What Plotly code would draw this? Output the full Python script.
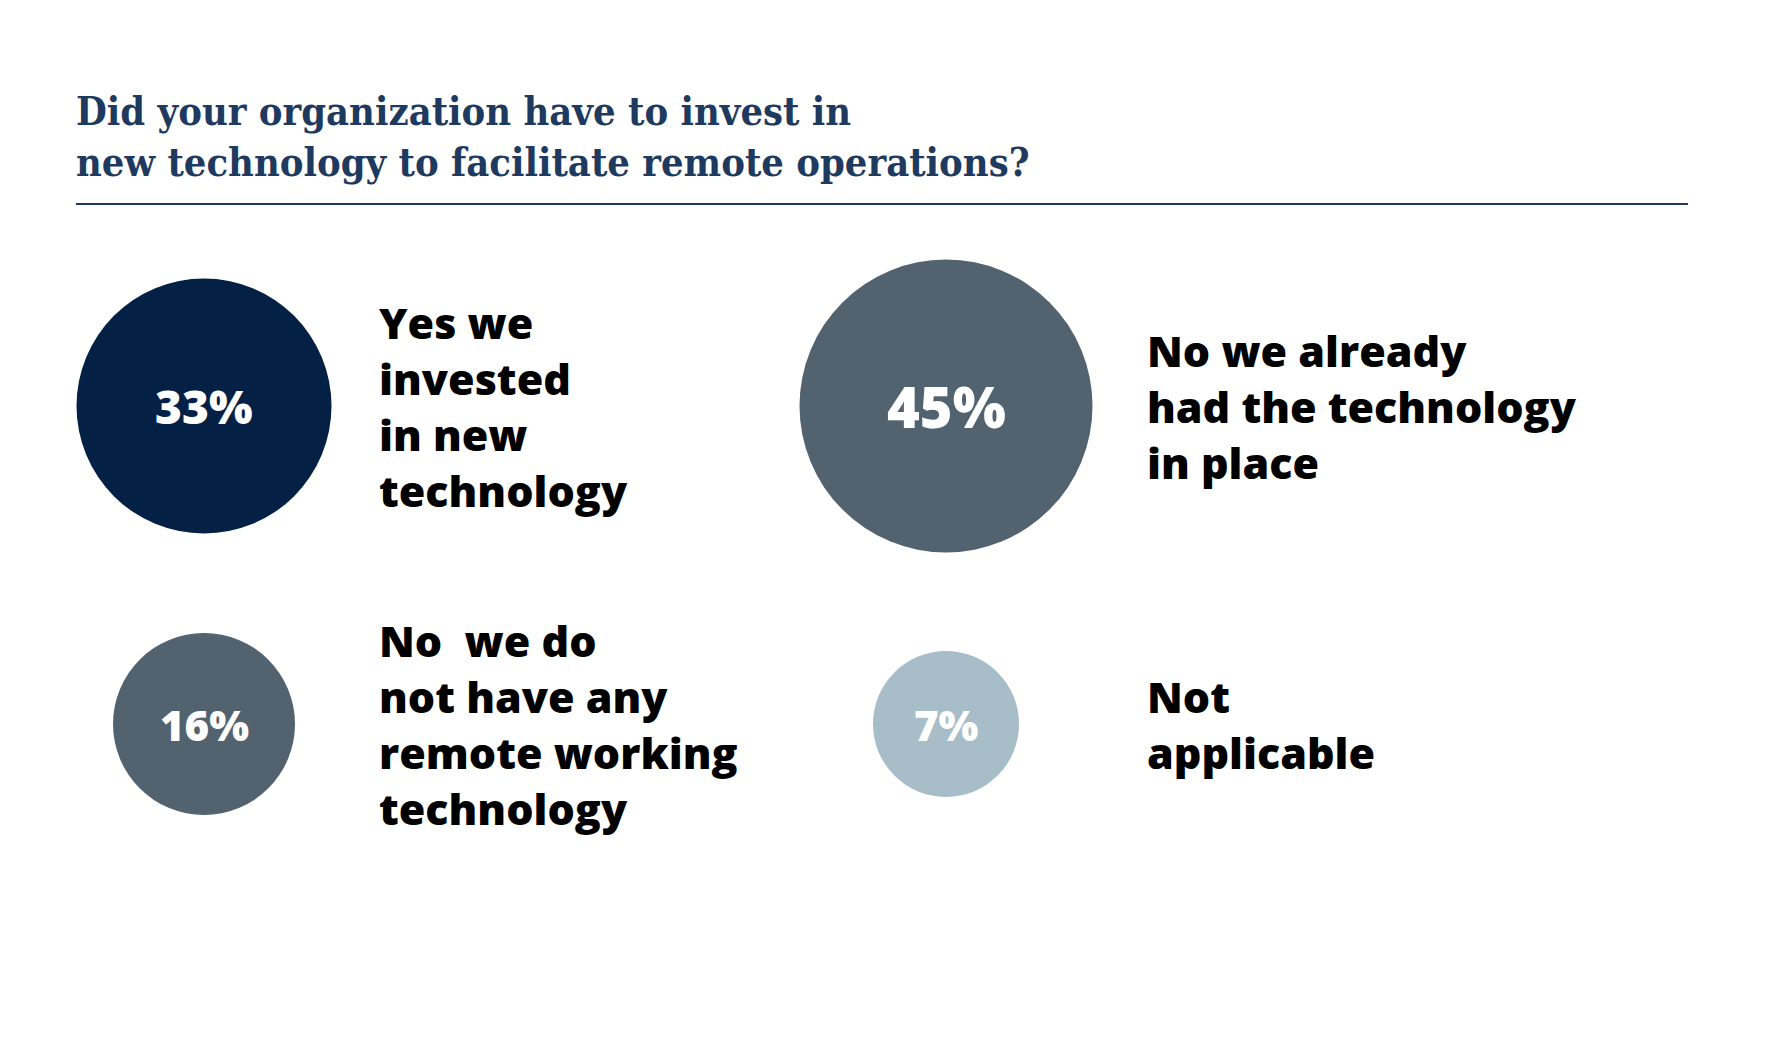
import plotly.graph_objects as go

# Survey answers, laid out on a 2x2 grid (col, row)
answers = [
    "Yes we<br>invested<br>in new<br>technology",
    "No we already<br>had the technology<br>in place",
    "No  we do<br>not have any<br>remote working<br>technology",
    "Not<br>applicable",
]
shares = [33, 45, 16, 7]
grid_col = [0, 1, 0, 1]
grid_row = [0, 0, 1, 1]

# styling
bubble_colors = ["#042045", "#52626f", "#52626f", "#a7bdc8"]
bubble_px = [255, 293, 182, 146]
pct_font = [46, 56, 42, 42]
label_shift = [173, 199]

W, H = 1785, 1042
OFF = 8  # page body margin
fig = go.Figure()

fig.add_trace(go.Scatter(
    x=grid_col, y=grid_row, mode="markers",
    marker=dict(size=bubble_px, color=bubble_colors, line=dict(width=0), opacity=1),
    hoverinfo="skip", showlegend=False,
))

for c, r, s, fs in zip(grid_col, grid_row, shares, pct_font):
    fig.add_annotation(
        x=c, y=r, text=f"{s}%", showarrow=False,
        font=dict(family="Open Sans", size=fs, color="white", weight=800),
        xanchor="center", yanchor="middle",
    )

for c, r, t in zip(grid_col, grid_row, answers):
    fig.add_annotation(
        x=c, y=r, text=t, showarrow=False,
        xanchor="left", yanchor="middle", align="left", xshift=label_shift[c],
        font=dict(family="Open Sans", size=43, color="black", weight=800),
    )

fig.add_annotation(
    xref="paper", yref="paper", x=(74 - OFF) / W, y=1 - (86 - OFF) / H,
    xanchor="left", yanchor="top", align="left", showarrow=False,
    text="<b>Did your organization have to invest in<br>new technology to facilitate remote operations?</b>",
    font=dict(family="DejaVu Serif Condensed, DejaVu Serif", size=39.5, color="#1f3a5f"),
)
fig.add_shape(type="line", xref="paper", yref="paper",
              x0=(76 - OFF) / W, x1=(1688 - OFF) / W,
              y0=1 - (204 - OFF) / H, y1=1 - (204 - OFF) / H,
              line=dict(color="#1f3a5f", width=2))

# map grid units to pixels: col 0 -> 204px, col 1 -> 946px; row 0 -> 406px, row 1 -> 724px
x0, y0 = 204 - OFF, 406 - OFF
dx, dy = 946 - 204, 724 - 406
fig.update_xaxes(range=[-x0 / dx, (W - x0) / dx], visible=False, fixedrange=True)
fig.update_yaxes(range=[(H - y0) / dy, -y0 / dy], visible=False, fixedrange=True)
fig.update_layout(
    width=W, height=H, margin=dict(l=0, r=0, t=0, b=0),
    paper_bgcolor="white", plot_bgcolor="white",
)
fig.write_html("out.html")
